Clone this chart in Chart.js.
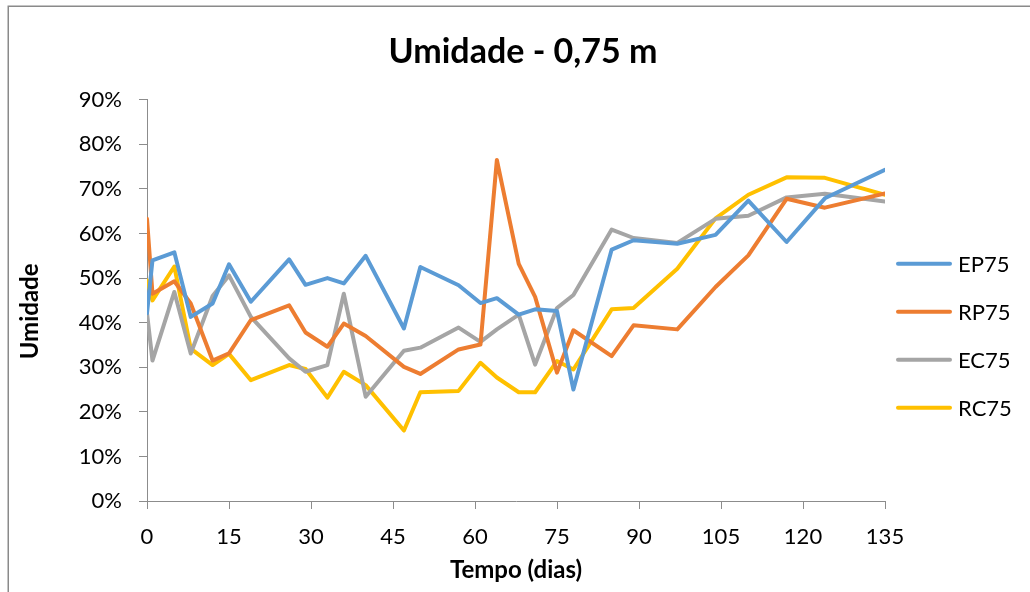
<!DOCTYPE html>
<html>
<head>
<meta charset="utf-8">
<script src="https://cdn.jsdelivr.net/npm/chart.js@4/dist/chart.umd.min.js"></script>
<style>
  html, body { margin: 0; padding: 0; background: #ffffff; }
  #wrap { position: relative; width: 1030px; height: 592px; }
</style>
</head>
<body>
<div id="wrap"><canvas id="chart" width="1030" height="592"></canvas></div>
<script>
// Sampling days (dias)
const days = [0, 1, 5, 8, 12, 15, 19, 26, 29, 33, 36, 40, 47, 50, 57, 61, 64, 68, 71, 75, 78, 85, 89, 97, 104, 110, 117, 124, 135];

// Moisture (%) at 0.75 m for each treatment
const ep75 = [42.1, 54.0, 55.8, 41.3, 44.3, 53.1, 44.7, 54.2, 48.5, 50.0, 48.8, 55.0, 38.7, 52.5, 48.4, 44.4, 45.5, 41.8, 43.0, 42.6, 25.0, 56.4, 58.5, 57.7, 59.7, 67.4, 58.1, 67.9, 74.3];
const rp75 = [63.3, 46.5, 49.3, 44.3, 31.5, 33.1, 40.6, 43.9, 37.8, 34.6, 39.8, 37.0, 30.1, 28.5, 34.0, 35.1, 76.5, 53.2, 45.8, 28.8, 38.3, 32.5, 39.4, 38.5, 48.0, 55.1, 67.8, 65.8, 69.0];
const ec75 = [42.1, 31.5, 46.9, 33.1, 46.0, 50.6, 41.3, 32.0, 29.0, 30.5, 46.5, 23.4, 33.7, 34.4, 38.9, 35.7, 38.5, 41.8, 30.6, 43.3, 46.2, 60.9, 59.0, 57.9, 63.3, 64.0, 68.1, 68.9, 67.2];
const rc75 = [49.5, 45.0, 52.6, 34.2, 30.5, 33.0, 27.1, 30.5, 29.6, 23.2, 29.0, 26.0, 15.8, 24.4, 24.7, 31.0, 27.7, 24.4, 24.4, 31.4, 29.5, 43.0, 43.3, 52.1, 63.4, 68.7, 72.6, 72.5, 68.7];

const seriesNames = ['EP75', 'RP75', 'EC75', 'RC75'];
const seriesColors = ['#5B9BD5', '#ED7D31', '#A5A5A5', '#FFC000'];

const chartTitle = 'Umidade - 0,75 m';
const xTitle = 'Tempo (dias)';
const yTitle = 'Umidade';

const FONT = "Lato, 'Open Sans', sans-serif";
const AXIS_GREY = '#8c8c8c';

const toPoints = (vals) => days.map((d, i) => ({ x: d, y: vals[i] }));

const datasets = [ep75, rp75, ec75, rc75].map((vals, i) => ({
  label: seriesNames[i],
  data: toPoints(vals),
  borderColor: seriesColors[i],
  backgroundColor: seriesColors[i],
  borderWidth: 4,
  borderJoinStyle: 'round',
  borderCapStyle: 'round',
  pointRadius: 0,
  pointHoverRadius: 0,
  tension: 0,
  fill: false
}));

// Frame lines around the chart and a white background
const framePlugin = {
  id: 'frame',
  beforeDraw(chart) {
    const { ctx, width, height } = chart;
    ctx.save();
    ctx.fillStyle = '#ffffff';
    ctx.fillRect(0, 0, width, height);
    ctx.strokeStyle = '#8a8a8a';
    ctx.lineWidth = 1.5;
    ctx.beginPath();
    ctx.moveTo(8.25, height);
    ctx.lineTo(8.25, 6.25);
    ctx.lineTo(width, 6.25);
    ctx.stroke();
    ctx.restore();
  }
};

// Vertical axis title, drawn a little below the middle of the plot area
const yTitlePlugin = {
  id: 'yTitle',
  afterDraw(chart, args, opts) {
    const { ctx, chartArea } = chart;
    ctx.save();
    ctx.translate(opts.x, (chartArea.top + chartArea.bottom) / 2 + opts.shift);
    ctx.rotate(-Math.PI / 2);
    ctx.font = opts.font;
    ctx.fillStyle = '#000000';
    ctx.textAlign = 'center';
    ctx.textBaseline = 'middle';
    ctx.fillText(opts.text, 0, 0);
    ctx.restore();
  }
};

// Legend at the right: a layout box holding a line sample and the series name
const sideLegend = {
  id: 'sideLegend',
  beforeInit(chart, args, opts) {
    const box = {
      position: 'right',
      weight: 1000,
      fullSize: false,
      options: {},
      width: 0, height: 0, top: 0, left: 0, right: 0, bottom: 0,
      isHorizontal() { return false; },
      update(maxWidth, maxHeight) {
        this.width = opts.width;
        this.height = maxHeight;
      },
      draw() {
        const { ctx } = chart;
        ctx.save();
        ctx.font = opts.font;
        ctx.textBaseline = 'middle';
        ctx.textAlign = 'left';
        chart.data.datasets.forEach((ds, i) => {
          const x = this.left + opts.inset;
          const y = this.top + opts.firstRow + i * opts.step;
          ctx.strokeStyle = ds.borderColor;
          ctx.lineWidth = ds.borderWidth;
          ctx.lineCap = 'round';
          ctx.beginPath();
          ctx.moveTo(x, y);
          ctx.lineTo(x + opts.lineLength, y);
          ctx.stroke();
          ctx.fillStyle = '#000000';
          ctx.fillText(ds.label, x + opts.lineLength + opts.gap, y + 1);
        });
        ctx.restore();
      }
    };
    Chart.layouts.addBox(chart, box);
  }
};

new Chart(document.getElementById('chart'), {
  type: 'line',
  data: { datasets },
  plugins: [framePlugin, sideLegend, yTitlePlugin],
  options: {
    responsive: false,
    animation: false,
    devicePixelRatio: 1,
    layout: { padding: { left: 16, right: 0, top: 10, bottom: 0 } },
    plugins: {
      legend: { display: false },
      tooltip: { enabled: false },
      title: {
        display: true,
        text: chartTitle,
        color: '#000000',
        font: { family: FONT, size: 34, weight: 'bold' },
        padding: { top: 22, bottom: 27 }
      },
      sideLegend: {
        width: 145, inset: 13, lineLength: 52, gap: 8, firstRow: 164, step: 48,
        font: "22px " + FONT
      },
      yTitle: {
        text: yTitle, x: 30, shift: 11,
        font: "bold 24px " + FONT
      }
    },
    scales: {
      x: {
        type: 'linear',
        min: 0,
        max: 135,
        afterFit(scale) { scale.height = 91; },
        ticks: {
          stepSize: 15,
          color: '#000000',
          padding: 15,
          font: { family: FONT, size: 22 }
        },
        grid: { display: true, drawOnChartArea: false, drawTicks: true, tickLength: 8, color: AXIS_GREY },
        border: { display: true, color: AXIS_GREY, width: 1 },
        title: {
          display: true,
          text: xTitle,
          color: '#000000',
          font: { family: FONT, size: 24, weight: 'bold' },
          padding: { top: 0, bottom: 7 }
        }
      },
      y: {
        min: 0,
        max: 90,
        afterFit(scale) { scale.width = 131; },
        ticks: {
          stepSize: 10,
          color: '#000000',
          padding: 17,
          font: { family: FONT, size: 22 },
          callback: (v) => v + '%'
        },
        grid: { display: true, drawOnChartArea: false, drawTicks: true, tickLength: 8, color: AXIS_GREY },
        border: { display: true, color: AXIS_GREY, width: 1 },
        title: { display: false }
      }
    }
  }
});
</script>
</body>
</html>
